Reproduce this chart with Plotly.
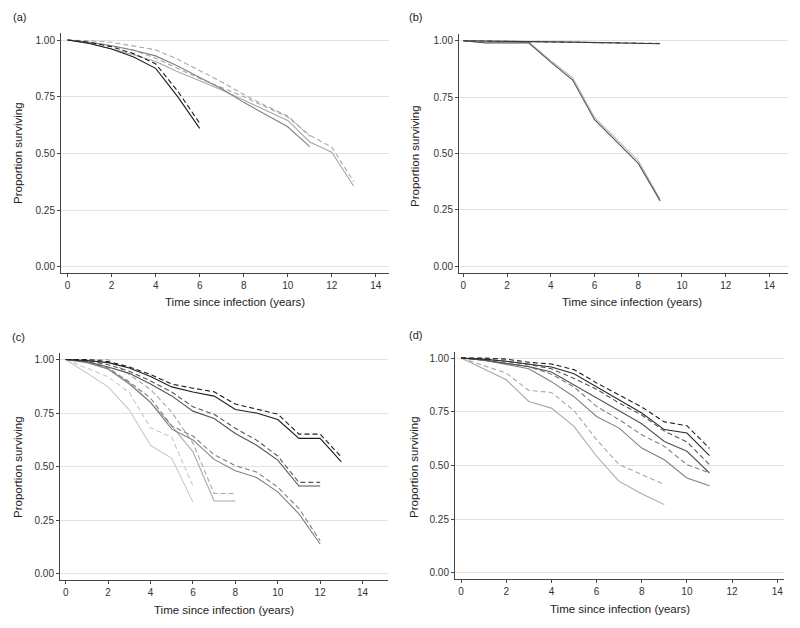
import plotly.graph_objects as go

# ---------------- data ----------------
# Panel (a)
a_t_short = [0, 1, 2, 3, 4, 5, 6]
a_t_mid = [0, 1, 2, 3, 4, 5, 6, 7, 8, 9, 10, 11]
a_t_long = [0, 1, 2, 3, 4, 5, 6, 7, 8, 9, 10, 11, 12, 13]
a_black_solid = [1.0, 0.985, 0.96, 0.925, 0.875, 0.75, 0.61]
a_black_dashed = [1.0, 0.99, 0.97, 0.94, 0.895, 0.775, 0.633]
a_mid_solid = [1.0, 0.99, 0.975, 0.955, 0.93, 0.885, 0.835, 0.785, 0.725, 0.67, 0.617, 0.53]
a_mid_dashed = [1.0, 0.997, 0.99, 0.975, 0.957, 0.915, 0.865, 0.815, 0.76, 0.71, 0.665, 0.575]
a_light_solid = [1.0, 0.985, 0.96, 0.935, 0.905, 0.86, 0.82, 0.78, 0.735, 0.69, 0.645, 0.55, 0.505, 0.355]
a_light_dashed = [1.0, 0.99, 0.975, 0.955, 0.92, 0.875, 0.83, 0.79, 0.75, 0.705, 0.66, 0.58, 0.527, 0.375]

# Panel (b)
b_t = [0, 1, 2, 3, 4, 5, 6, 7, 8, 9]
b_flat_solid = [1.0, 0.998, 0.997, 0.996, 0.995, 0.994, 0.992, 0.99, 0.988, 0.987]
b_flat_dashed = [1.0, 0.999, 0.998, 0.997, 0.996, 0.995, 0.993, 0.991, 0.989, 0.988]
b_drop_light = [1.0, 0.993, 0.993, 0.993, 0.912, 0.836, 0.66, 0.563, 0.468, 0.297]
b_drop_dark = [1.0, 0.99, 0.99, 0.99, 0.905, 0.826, 0.65, 0.553, 0.456, 0.29]

# Panel (c)
c_t13 = list(range(0, 14))
c_t12 = list(range(0, 13))
c_t8 = list(range(0, 9))
c_t6 = list(range(0, 7))
c_black_solid = [1.0, 0.995, 0.985, 0.96, 0.92, 0.872, 0.848, 0.829, 0.767, 0.75, 0.72, 0.632, 0.632, 0.523]
c_black_dashed = [1.0, 1.0, 0.99, 0.965, 0.93, 0.885, 0.866, 0.849, 0.792, 0.77, 0.745, 0.652, 0.652, 0.545]
c_dark_solid = [1.0, 0.99, 0.965, 0.935, 0.885, 0.83, 0.759, 0.725, 0.655, 0.6, 0.531, 0.41, 0.41]
c_dark_dashed = [1.0, 0.995, 0.975, 0.945, 0.9, 0.848, 0.779, 0.744, 0.679, 0.624, 0.55, 0.427, 0.427]
c_mid_solid = [1.0, 0.985, 0.955, 0.885, 0.8, 0.675, 0.625, 0.534, 0.481, 0.45, 0.383, 0.28, 0.14]
c_mid_dashed = [1.0, 0.99, 0.96, 0.895, 0.82, 0.69, 0.643, 0.556, 0.505, 0.475, 0.405, 0.305, 0.155]
c_light_solid = [1.0, 0.99, 0.955, 0.89, 0.8, 0.69, 0.57, 0.34, 0.34]
c_light_dashed = [1.0, 1.0, 1.0, 0.93, 0.86, 0.755, 0.61, 0.375, 0.375]
c_pale_solid = [1.0, 0.935, 0.872, 0.764, 0.6, 0.539, 0.335]
c_pale_dashed = [1.0, 0.96, 0.919, 0.845, 0.681, 0.637, 0.41]

# Panel (d)
d_t11 = list(range(0, 12))
d_t9 = list(range(0, 10))
d_black_dashed = [1.0, 1.0, 0.995, 0.98, 0.972, 0.946, 0.884, 0.829, 0.772, 0.703, 0.685, 0.58]
d_black_solid = [1.0, 0.995, 0.985, 0.97, 0.958, 0.927, 0.865, 0.806, 0.744, 0.667, 0.651, 0.546]
d_dark_dashed = [1.0, 0.995, 0.985, 0.97, 0.95, 0.905, 0.855, 0.79, 0.735, 0.66, 0.61, 0.504]
d_dark_solid = [1.0, 0.99, 0.975, 0.96, 0.935, 0.875, 0.815, 0.756, 0.694, 0.612, 0.566, 0.465]
d_mid_dashed = [1.0, 0.99, 0.975, 0.96, 0.925, 0.865, 0.775, 0.713, 0.643, 0.589, 0.504, 0.465]
d_mid_solid = [1.0, 0.99, 0.97, 0.95, 0.89, 0.82, 0.728, 0.674, 0.581, 0.527, 0.442, 0.406]
d_light_dashed = [1.0, 0.965, 0.93, 0.849, 0.84, 0.755, 0.62, 0.504, 0.457, 0.411]
d_light_solid = [1.0, 0.95, 0.899, 0.798, 0.767, 0.682, 0.543, 0.426, 0.369, 0.318]

x_ticks = [0, 2, 4, 6, 8, 10, 12, 14]
y_ticks = [0.0, 0.25, 0.5, 0.75, 1.0]
y_tick_text = ["0.00", "0.25", "0.50", "0.75", "1.00"]
panel_labels = ["(a)", "(b)", "(c)", "(d)"]
x_title = "Time since infection (years)"
y_title = "Proportion surviving"

# ---------------- styles ----------------
BLACK = "#1e1e1e"
DARK = "#555555"
MID = "#808080"
LIGHT = "#a8a8a8"
PALE = "#c8c8c8"
DASH = "5px,3px"
LW = 1.1

series = [
    # panel, x, y, color, dashed
    (1, a_t_long, a_light_solid, LIGHT, False),
    (1, a_t_long, a_light_dashed, LIGHT, True),
    (1, a_t_mid, a_mid_solid, MID, False),
    (1, a_t_mid, a_mid_dashed, LIGHT, True),
    (1, a_t_short, a_black_solid, BLACK, False),
    (1, a_t_short, a_black_dashed, BLACK, True),
    (2, b_t, b_drop_light, "#b4b4b4", False),
    (2, b_t, b_drop_dark, DARK, False),
    (2, b_t, b_flat_dashed, DARK, True),
    (2, b_t, b_flat_solid, "#3a3a3a", False),
    (3, c_t6, c_pale_solid, PALE, False),
    (3, c_t6, c_pale_dashed, PALE, True),
    (3, c_t8, c_light_solid, LIGHT, False),
    (3, c_t8, c_light_dashed, LIGHT, True),
    (3, c_t12, c_mid_solid, MID, False),
    (3, c_t12, c_mid_dashed, MID, True),
    (3, c_t12, c_dark_solid, DARK, False),
    (3, c_t12, c_dark_dashed, DARK, True),
    (3, c_t13, c_black_solid, BLACK, False),
    (3, c_t13, c_black_dashed, BLACK, True),
    (4, d_t9, d_light_solid, LIGHT, False),
    (4, d_t9, d_light_dashed, LIGHT, True),
    (4, d_t11, d_mid_solid, MID, False),
    (4, d_t11, d_mid_dashed, MID, True),
    (4, d_t11, d_dark_solid, DARK, False),
    (4, d_t11, d_dark_dashed, DARK, True),
    (4, d_t11, d_black_solid, "#2a2a2a", False),
    (4, d_t11, d_black_dashed, BLACK, True),
]

W, H = 800, 628
# plot-area boxes in pixels: (left, right, top, bottom)
boxes = {
    1: (61, 389, 33, 273),
    2: (459, 788, 34, 273),
    3: (60, 388, 353, 580),
    4: (455, 784, 352, 579),
}
x_ranges = {1: [-0.3, 14.6], 2: [-0.2, 14.85], 3: [-0.27, 15.2], 4: [-0.27, 14.3]}
y_ranges = {1: [-0.028, 1.031], 2: [-0.03, 1.03], 3: [-0.028, 1.03], 4: [-0.028, 1.028]}

fig = go.Figure()
for p, xs, ys, col, dashed in series:
    suffix = "" if p == 1 else str(p)
    fig.add_trace(go.Scatter(
        x=xs, y=ys, mode="lines",
        line=dict(color=col, width=LW, dash=DASH if dashed else "solid"),
        xaxis="x" + suffix, yaxis="y" + suffix,
        showlegend=False, hoverinfo="skip",
    ))

font_fam = "Liberation Sans, Arial, sans-serif"
layout = dict(
    width=W, height=H,
    margin=dict(l=0, r=0, t=0, b=0),
    paper_bgcolor="white", plot_bgcolor="white",
    font=dict(family=font_fam, size=10, color="#333333"),
    showlegend=False,
)
annotations = []
for p in range(1, 5):
    l, r, t, b = boxes[p]
    suffix = "" if p == 1 else str(p)
    layout["xaxis" + suffix] = dict(
        domain=[l / W, r / W], range=x_ranges[p], anchor="y" + suffix,
        tickvals=x_ticks, ticks="outside", ticklen=3, tickcolor="#444",
        showline=True, linecolor="#444", linewidth=1,
        showgrid=False, zeroline=False, automargin=False,
        tickfont=dict(size=10, color="#333"),
    )
    layout["yaxis" + suffix] = dict(
        domain=[1 - b / H, 1 - t / H], range=y_ranges[p], anchor="x" + suffix,
        tickvals=y_ticks, ticktext=y_tick_text, ticks="outside", ticklen=3, tickcolor="#444",
        showline=True, linecolor="#444", linewidth=1,
        showgrid=True, gridcolor="#e2e2e2", gridwidth=1.3,
        zeroline=False, automargin=False,
        tickfont=dict(size=10, color="#333"),
    )
    # axis titles
    x_title_pos = {1: (235, 302), 2: (632, 302), 3: (224, 610), 4: (620, 609)}[p]
    annotations.append(dict(
        text=x_title, xref="paper", yref="paper",
        x=x_title_pos[0] / W, y=1 - x_title_pos[1] / H,
        xanchor="center", yanchor="middle", showarrow=False,
        font=dict(size=11.5, color="#222"),
    ))
    y_title_pos = {1: (18, 153), 2: (415, 156), 3: (18, 467), 4: (414, 467)}[p]
    annotations.append(dict(
        text=y_title, xref="paper", yref="paper",
        x=y_title_pos[0] / W, y=1 - y_title_pos[1] / H, textangle=-90,
        xanchor="center", yanchor="middle", showarrow=False,
        font=dict(size=11.5, color="#222"),
    ))
    lab_pos = {1: (19, 17), 2: (415, 17), 3: (18, 337), 4: (415, 335)}[p]
    annotations.append(dict(
        text=panel_labels[p - 1], xref="paper", yref="paper",
        x=lab_pos[0] / W, y=1 - lab_pos[1] / H,
        xanchor="center", yanchor="middle", showarrow=False,
        font=dict(size=11, color="#222"),
    ))
layout["annotations"] = annotations
fig.update_layout(**layout)
fig.write_html(
    "out.html",
    config={"displayModeBar": False},
    post_script="document.body.style.margin='0px';document.body.style.overflow='hidden';",
)
